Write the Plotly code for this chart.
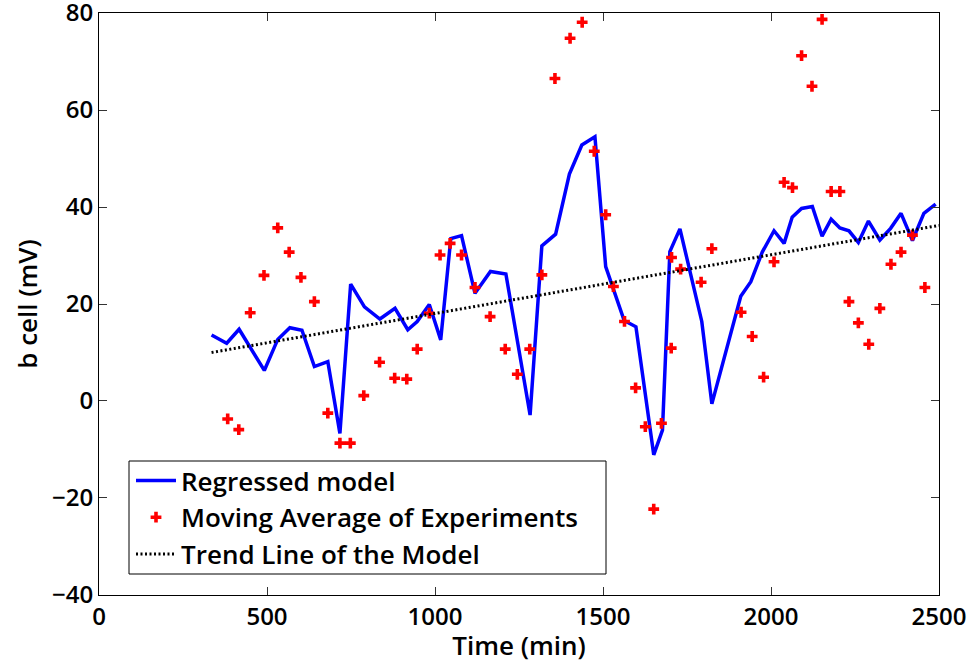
import plotly.graph_objects as go

# ---- data ----
model_t = [335, 380, 417, 492, 532, 568, 604, 641, 681, 717, 749, 790, 836, 881, 919, 947, 983,
           1017, 1047, 1079, 1119, 1165, 1211, 1283, 1318, 1359, 1400, 1437, 1476, 1508, 1563,
           1598, 1651, 1677, 1699, 1729, 1794, 1824, 1910, 1940, 1974, 2009, 2039, 2063, 2091,
           2123, 2152, 2179, 2205, 2232, 2260, 2290, 2324, 2356, 2387, 2421, 2455, 2490]
model_v = [13.6, 11.9, 14.8, 6.3, 12.7, 15.1, 14.6, 7.1, 8.1, -6.7, 24.1, 19.4, 16.9, 19.1, 14.7,
           16.4, 19.9, 12.6, 33.5, 34.1, 22.2, 26.7, 26.2, -2.9, 32.0, 34.4, 46.8, 52.8, 54.5,
           27.7, 16.6, 15.3, -11.1, -6.0, 30.8, 35.5, 16.4, -0.6, 21.6, 24.6, 30.7, 35.1, 32.5,
           37.9, 39.7, 40.1, 34.0, 37.5, 35.7, 35.1, 32.7, 37.1, 33.2, 35.6, 38.7, 33.1, 38.7, 40.6]

exp_t = [383, 416, 450, 491, 532, 566, 601, 641, 681, 717, 748, 788, 835, 880, 916, 947, 983,
         1015, 1045, 1079, 1119, 1164, 1209, 1245, 1282, 1318, 1357, 1402, 1438, 1474, 1508,
         1531, 1564, 1597, 1626, 1651, 1674, 1703, 1704, 1731, 1792, 1824, 1911, 1944, 1978,
         2009, 2039, 2064, 2091, 2122, 2152, 2179, 2205, 2232, 2260, 2291, 2324, 2357, 2387,
         2421, 2458]
exp_v = [-3.7, -5.9, 18.2, 25.9, 35.7, 30.7, 25.5, 20.5, -2.5, -8.7, -8.7, 1.1, 8.0, 4.7, 4.5,
         10.7, 18.1, 30.1, 32.5, 30.1, 23.4, 17.4, 10.7, 5.5, 10.7, 26.0, 66.5, 74.8, 78.1,
         51.5, 38.4, 23.6, 16.4, 2.7, -5.3, -22.3, -4.6, 10.9, 29.6, 27.2, 24.5, 31.4, 18.3,
         13.3, 4.9, 28.7, 45.1, 44.0, 71.2, 64.9, 78.7, 43.2, 43.2, 20.5, 16.1, 11.7, 19.1,
         28.2, 30.7, 34.2, 23.4]

trend_t = [335, 2500]
trend_v = [10.0, 36.2]

x_ticks = [0, 500, 1000, 1500, 2000, 2500]
y_ticks = [-40, -20, 0, 20, 40, 60, 80]

FONT = "Open Sans, Liberation Sans, Arial, sans-serif"
FW = 600
tickfont = dict(family=FONT, size=24, color="black", weight=FW)
textfont = dict(family=FONT, size=26, color="black", weight=FW)

fig = go.Figure()
fig.add_trace(go.Scatter(x=model_t, y=model_v, mode="lines", name="Regressed model",
                         line=dict(color="#0000ff", width=3.5)))
fig.add_trace(go.Scatter(x=exp_t, y=exp_v, mode="markers", name="Moving Average of Experiments",
                         marker=dict(symbol="cross", size=9, color="#ff0000",
                                     line=dict(width=0))))
fig.add_trace(go.Scatter(x=trend_t, y=trend_v, mode="lines", name="Trend Line of the Model",
                         line=dict(color="black", width=3, dash="2px,2.5px")))

axis_common = dict(showgrid=False, zeroline=False, showline=True, linecolor="black",
                   linewidth=1, mirror="ticks", ticks="inside", ticklen=8, tickwidth=1,
                   tickcolor="#333333", tickfont=tickfont, ticklabeloverflow="allow",
                   automargin=False)

fig.update_xaxes(range=[0, 2500.01], tickvals=x_ticks, ticktext=[str(v) for v in x_ticks],
                 title=dict(text="Time (min)", font=textfont, standoff=0), **axis_common)
fig.update_yaxes(range=[-40.01, 80.01], tickvals=y_ticks,
                 title=dict(text="b cell (mV)", font=textfont, standoff=6), **axis_common)

# legend box drawn as a shape
fig.add_shape(type="rect", xref="paper", yref="paper",
              x0=30 / 840, x1=507 / 840, y0=(595 - 574) / 582, y1=(595 - 461) / 582,
              line=dict(color="black", width=1), fillcolor="white", layer="above")

fig.update_layout(
    width=972, height=663,
    margin=dict(l=99, r=33, t=13, b=68),
    paper_bgcolor="white", plot_bgcolor="white",
    showlegend=True,
    legend=dict(x=32 / 840, y=(595 - 457) / 582, xanchor="left", yanchor="top",
                bgcolor="rgba(0,0,0,0)", borderwidth=0,
                font=textfont, tracegroupgap=0, itemwidth=40),
)

fig.write_html("out.html")
